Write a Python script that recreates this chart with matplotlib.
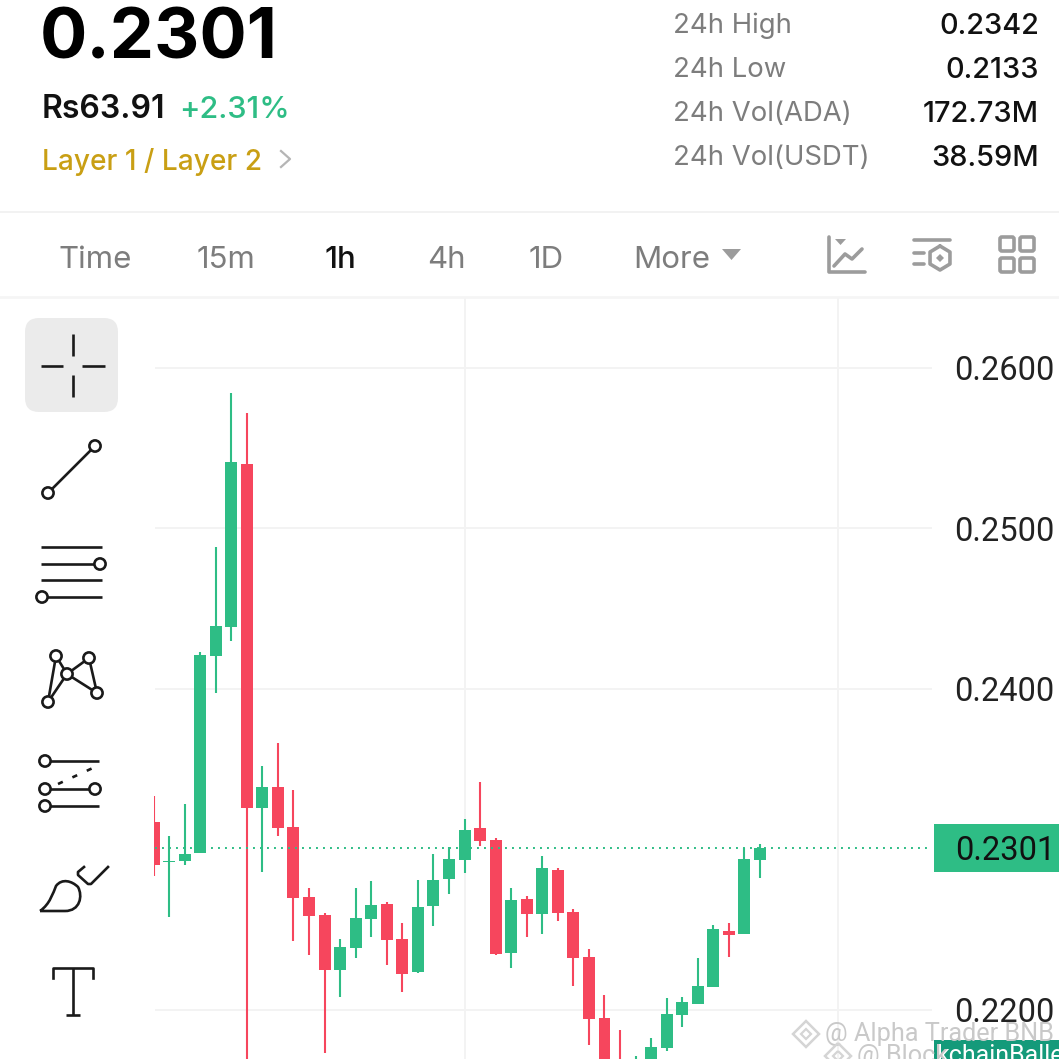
import matplotlib
matplotlib.use("Agg")
import matplotlib.pyplot as plt
from matplotlib.patches import FancyBboxPatch, Circle, Rectangle, Polygon, PathPatch
from matplotlib.path import Path
import numpy as np

opens = [.23172,.22922,.22929,.22978,.24206,.24386,.25402,.23259,.23390,.23140,
         .22704,.22592,.22250,.22387,.22567,.22661,.22443,.22237,.22648,.22816,
         .22935,.23134,.23059,.22355,.22692,.22598,.22873,.22611,.22331,.21950,
         .21595,.21471,.21595,.21764,.21969,.22038,.22144,.22493,.22474,.22935]
closes = [.22904,.22929,.22972,.24212,.24393,.25414,.23259,.23390,.23134,.22698,
          .22586,.22250,.22393,.22573,.22654,.22436,.22225,.22642,.22810,.22941,
          .23122,.23053,.22349,.22686,.22598,.22885,.22605,.22324,.21944,.21595,
          .21502,.21627,.21770,.21975,.22050,.22150,.22505,.22468,.22941,.23010]
highs = [.23334,.23084,.23284,.24231,.24885,.25844,.25720,.23520,.23664,.23371,
         .22760,.22605,.22443,.22760,.22804,.22673,.22542,.22810,.22972,.23016,
         .23190,.23421,.23072,.22760,.22711,.22960,.22885,.22630,.22380,.22094,
         .21876,.21714,.21826,.22075,.22081,.22324,.22530,.22542,.23010,.23035]
lows = [.22835,.22580,.22904,.22978,.23975,.24299,.21595,.22860,.23084,.22430,
        .22343,.21732,.22081,.22324,.22455,.22281,.22112,.22231,.22524,.22723,
        .22854,.23022,.22343,.22262,.22455,.22474,.22555,.22150,.21782,.21502,
        .21440,.21408,.21552,.21745,.21894,.22038,.22144,.22331,.22474,.22823]
y_ticks = [0.26, 0.25, 0.24, 0.22]
y_labels = ["0.2600", "0.2500", "0.2400", "0.2200"]
last_price = 0.2301
v_grid = [20, 44]

stats_names = ["24h High", "24h Low", "24h Vol(ADA)", "24h Vol(USDT)"]
stats_values = ["0.2342", "0.2133", "172.73M", "38.59M"]
tabs = ["Time", "15m", "1h", "4h", "1D", "More"]

GREEN = "#2ebd85"
RED = "#f6465d"
GRID = "#f3f3f3"
INK = "#141414"
GREY = "#7d7d7d"
ICON = "#9c9c9c"
UI = "Inter"
NUM = "Roboto"

W = 1059
fig = plt.figure(figsize=(W/100, W/100), dpi=100, facecolor="white")

# chart axes spans x 153.7..932, y 298..1059 px
ax = fig.add_axes([153.7/W, 0, (932-153.7)/W, (1059-298)/W])
ax.set_xlim(0.012, 50.06)
ax.set_ylim(0.21695, 0.26436)
ax.axis("off")
ax.hlines(y_ticks, 0.096, 50.06, color=GRID, lw=1.4, zorder=1)
for g in v_grid:
    ax.axvline(g, color=GRID, lw=1.4, zorder=1)
ax.hlines(last_price, 0.096, 50.06, color=GREEN, lw=1.4, ls=(0, (1, 2.6)), zorder=4)

x = np.arange(len(opens))
o, c, h, l = map(np.array, (opens, closes, highs, lows))
col = [GREEN if cc >= oo else RED for oo, cc in zip(o, c)]
ax.vlines(x, l, h, colors=col, lw=1.5, zorder=2)
ax.bar(x, np.maximum(np.abs(c-o), 0.00006), bottom=np.minimum(o, c), width=0.77,
       color=col, linewidth=0, zorder=3)

# overlay in pixel coordinates for the app chrome
ov = fig.add_axes([0, 0, 1, 1])
ov.set_xlim(0, W); ov.set_ylim(W, 0); ov.axis("off"); ov.patch.set_alpha(0)

def T(px, py, s, size, color=INK, ha="left", weight="normal", fam=UI, **kw):
    ov.text(px, py + 3, s, fontsize=size, color=color, ha=ha, va="center",
            fontweight=weight, family=fam, **kw)

# header
T(40, 37, "0.2301", 50.5, "#000000", weight="bold")
T(42, 107, "Rs63.91", 23, "#111111", weight="semibold")
T(179, 107, "+2.31%", 22, GREEN, weight="medium")
T(42, 159, "Layer 1 / Layer 2", 20.2, "#c99f14", weight="medium")
ov.plot([281, 290, 281], [151, 159, 167], color="#b5b5b5", lw=1.6)
for yy, n, v in zip([23, 67, 111, 155], stats_names, stats_values):
    T(673, yy, n, 19.8, GREY)
    T(1039, yy, v, 20.8, "#111111", ha="right", weight="medium")
ov.plot([0, W], [212, 212], color="#f0f0f0", lw=1.2)
ov.plot([0, W], [297, 297], color="#f5f5f5", lw=2)

# tabs
for px, s in zip([58, 197, 325, 427, 529, 633], tabs):
    T(px, 257, s, 22.5, "#111111" if s == "1h" else GREY, weight="medium" if s == "1h" else "normal")
ov.add_patch(Polygon([(722, 249), (741, 249), (731.5, 260)], color=ICON, lw=0))

# right icons
k = dict(color=ICON, lw=2.6, solid_capstyle="round", solid_joinstyle="round")
ov.plot([829, 829, 865], [237, 272, 272], **k)
ov.add_patch(Polygon([(835, 239), (846, 239), (840.5, 245)], color=ICON, lw=0))
ov.plot([834, 845, 852, 862], [266, 254, 259, 249], **k)
ov.plot([914, 950], [240, 240], **k)
ov.plot([914, 924], [253, 253], **k)
ov.plot([914, 924], [264, 264], **k)
a = np.deg2rad(np.arange(-90, 300, 60))
ov.plot(940+11.5*np.cos(a), 258+12*np.sin(a), **k)
ov.add_patch(Polygon([(940, 254), (944, 258), (940, 262), (936, 258)], color=ICON, lw=0))
for xx in (1000, 1020):
    for yy in (237, 258):
        ov.add_patch(FancyBboxPatch((xx, yy), 14, 14, boxstyle="round,pad=0,rounding_size=2",
                                    fc="none", ec=ICON, lw=2.6))

# left toolbar
ov.add_patch(FancyBboxPatch((25, 318), 93, 94, boxstyle="round,pad=0,rounding_size=14",
                            fc="#ebebeb", ec="none"))
kd = dict(color="#1a1a1a", lw=1.9, solid_capstyle="butt", zorder=5)
def circ(cx, cy, r=5.6):
    ov.add_patch(Circle((cx, cy), r, fc="white", ec="#1a1a1a", lw=1.9, zorder=6))
ov.plot([73, 73], [334, 356], **kd); ov.plot([73, 73], [375, 397], **kd)
ov.plot([41, 63], [366, 366], **kd); ov.plot([82, 105], [366, 366], **kd)
ov.plot([48, 95], [493, 446], **kd); circ(48, 493); circ(95, 446)
ov.plot([41, 102], [547, 547], **kd); ov.plot([41, 100], [564, 564], **kd); circ(100, 564)
ov.plot([41, 102], [580, 580], **kd); ov.plot([42, 102], [597, 597], **kd); circ(42, 597)
for a_, b_ in [((48, 702), (56, 656)), ((56, 656), (67, 674)), ((67, 674), (89, 658)),
               ((89, 658), (97, 693)), ((67, 674), (48, 702)), ((67, 674), (97, 693))]:
    ov.plot([a_[0], b_[0]], [a_[1], b_[1]], **kd)
for p in [(56, 656), (89, 658), (67, 674), (48, 702), (97, 693)]:
    circ(*p)
ov.plot([45, 99], [761, 761], **kd); circ(45, 761)
ov.plot([58, 95], [784, 767], color="#1a1a1a", lw=1.9, ls=(0, (2, 4)))
ov.plot([45, 95], [789, 789], **kd); circ(45, 789); circ(95, 789)
ov.plot([45, 99], [806, 806], **kd); circ(45, 806)
brush = Path([(40, 911), (50, 904), (53, 893), (56, 886), (62, 878), (72, 881), (78, 887),
              (83, 896), (80, 911), (65, 911), (40, 911)],
             [Path.MOVETO, Path.CURVE4, Path.CURVE4, Path.CURVE4, Path.CURVE4, Path.CURVE4,
              Path.CURVE4, Path.CURVE4, Path.CURVE4, Path.CURVE4, Path.LINETO])
ov.add_patch(PathPatch(brush, fc="none", ec="#1a1a1a", lw=1.9))
ov.plot([84, 78, 78, 88, 91, 108], [867, 872, 875, 884, 884, 867], color="#1a1a1a", lw=1.9)
ov.plot([53, 53, 93, 93], [978, 968, 968, 978], color="#1a1a1a", lw=1.9)
ov.plot([73, 73], [968, 1015], **kd); ov.plot([66, 80], [1015, 1015], **kd)

# price axis labels
for t, s in zip(y_ticks, y_labels):
    py = 368 + (0.26 - t) * 16050
    T(954, py, s, 23.5, "#222222", fam=NUM)
ov.add_patch(Rectangle((934, 824), 125, 48, color=GREEN, lw=0))
T(955, 848, "0.2301", 23.5, "#111111", fam=NUM)

# bottom strip and watermark
ov.add_patch(Rectangle((934, 1040), 125, 19, color="#149a7a", lw=0, zorder=2))
T(936, 1053, "kchainBalle", 18, "white", fam=NUM, zorder=3)
T(825, 1031, "@ Alpha Trader BNB", 18.2, "#c9c9c9", fam=NUM, zorder=4)
T(857, 1053, "@ Block", 18.2, "#c9c9c9", fam=NUM, zorder=4)
for cx, cy in [(806, 1034), (838, 1056)]:
    ov.add_patch(Polygon([(cx, cy-13), (cx+13, cy), (cx, cy+13), (cx-13, cy)],
                         fc="none", ec="#d5d5d5", lw=1.8, zorder=4))
    ov.add_patch(Polygon([(cx, cy-5), (cx+5, cy), (cx, cy+5), (cx-5, cy)],
                         fc="none", ec="#d5d5d5", lw=1.6, zorder=4))

fig.savefig("out.png", dpi=100, facecolor="white")
